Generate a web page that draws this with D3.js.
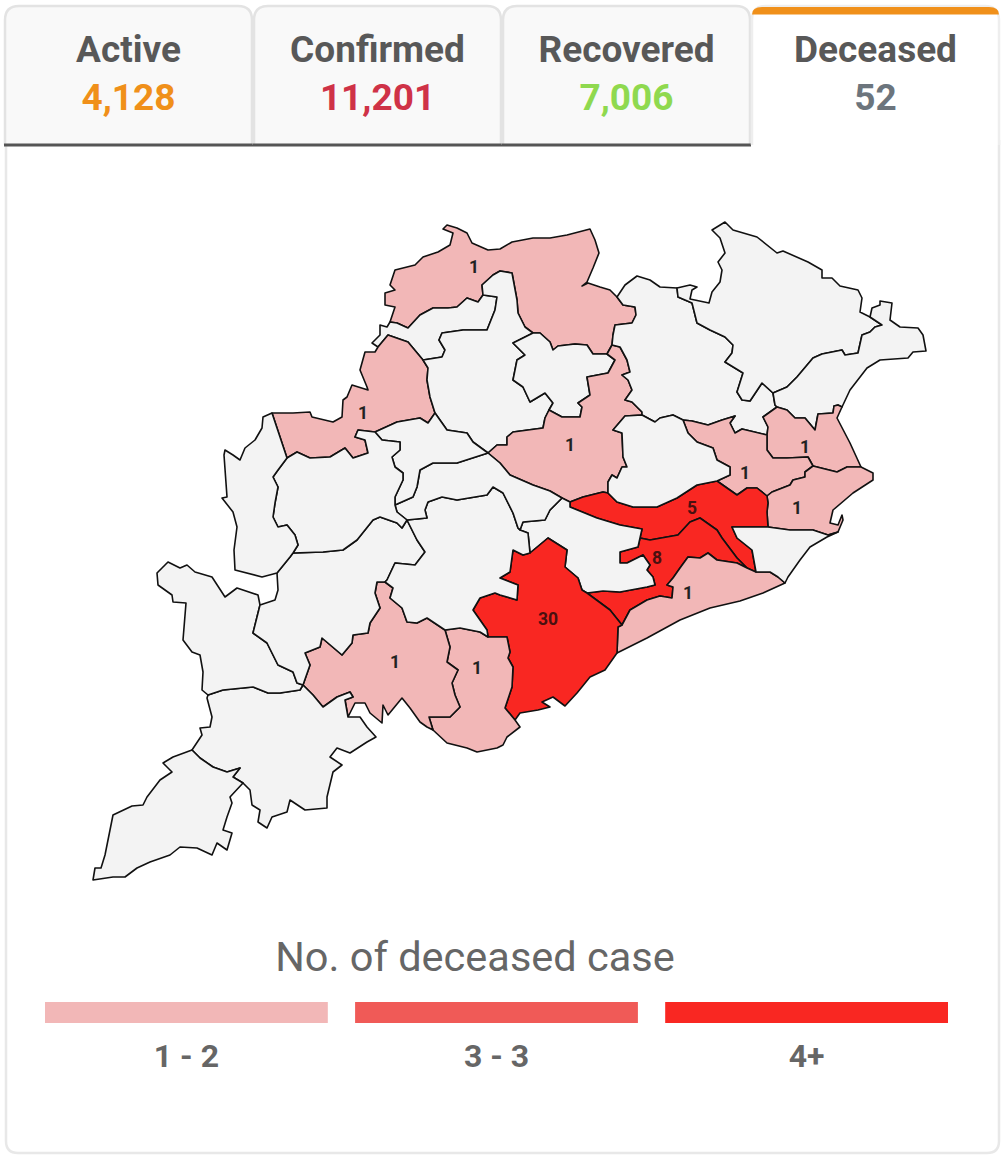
<!DOCTYPE html>
<html><head><meta charset="utf-8">
<script src="https://cdn.jsdelivr.net/npm/d3@7"></script>
<style>html,body{margin:0;padding:0;background:#fff}svg{display:block}text{font-family:Roboto,sans-serif}</style>
</head><body><svg id="c" width="1004" height="1156"></svg>
<script>
const tabNames=["Active","Confirmed","Recovered","Deceased"];
const tabValues=[4128,11201,7006,52];
const tabColors=["#f0901a","#cf3247","#8fd94f","#6c757d"];
const legendTitle="No. of deceased case";
const legendLabels=["1 - 2","3 - 3","4+"];
const legendColors=["#f2b7b7","#f05a57","#f92722"];
const noCaseColor="#f3f3f3";

const borders={
A:"390,322 395,307 385,305 385,293 395,290 390,285 395,270 415,265 423,257 438,252 450,245 453,233 443,229 447,225 457,228 467,233 472,243 488,250 500,249 512,242 533,238 550,238 567,235 590,229 595,240 599,253 593,268 587,282 582,286 588,283 600,287 610,290 617,297",
B:"617,297 623,305 635,307 636,315 632,323 615,325 613,335 612,345",
C:"612,345 607,354",
D:"607,354 593,354 587,345 575,344 558,346 553,350 550,342 540,333 533,333",
E:"533,333 525,327 518,313 517,300 512,273 500,271 493,275 482,285 483,295",
F:"483,295 478,302 467,298 457,307 448,308 433,308 420,315 408,328 397,323 390,322",
G:"483,295 497,297 495,310 487,330 463,330 442,333 439,340 445,350 442,357 423,360",
H:"423,360 408,342 388,335 378,347",
I:"378,347 372,343 380,335 380,325 387,327 390,322",
J:"378,347 375,352 365,352 360,370 367,387 368,390 352,385 347,397 343,400 342,417 333,422 312,417 310,412 293,413 272,413",
K:"272,413 287,458",
L:"287,458 297,452 310,458 330,457 345,448 353,458 368,453 365,440 355,437 358,430 375,432",
M:"375,432 397,422 420,418 428,423 435,413",
N:"435,413 430,397 427,380 428,368 423,360",
O:"435,413 447,430 467,433 473,442 488,453",
P:"533,333 513,343 525,355 517,360 513,380 523,387 530,402 545,393 553,403 549,410",
Q:"549,410 545,418 543,428 528,430 513,432 507,437 507,445 497,445 488,453",
R:"549,410 562,417 580,417 582,407 578,403 590,395 587,377 608,373 615,360 607,354",
S:"488,453 500,463 510,475 533,485 550,491 562,498",
S2:"562,498 570,502",
T:"570,502 583,497 603,492 608,493",
U:"608,493 608,482 612,475 617,478 622,467 627,467 623,457 622,433 613,430 625,416 642,415",
V:"642,415 642,412 632,402 625,400 632,390 628,380 622,375 630,372 627,360 620,347 612,345",
W:"617,297 625,285 637,276 650,280 660,287 677,288",
X:"677,288 678,297 692,303 697,323 710,330 725,337 733,345 732,353 725,362 743,373 737,392 742,400 750,401 762,383 773,393",
Y:"773,393 775,405 777,407",
Z:"777,407 763,417 768,427 767,435",
AA:"767,435 742,429 735,433 730,423 735,416 722,420 708,425 692,421 683,420",
AB:"683,420 673,415 660,418 655,422 642,415",
AC:"677,288 690,285 697,287 692,290 690,299 709,303 712,292 720,282 722,270 718,262 725,253 720,238 712,230 725,222 733,230 757,237 777,253 783,251 808,262 822,270 822,278 832,278 840,286 858,290 862,298 860,312 870,317",
AD:"870,317 882,325 875,327 870,332 862,335 858,353 845,355 842,350 822,354 813,358 797,377 787,387 773,393",
AE:"870,317 872,308 880,305 880,301 892,303 890,320 900,327 918,328 923,335 926,351 913,352 908,358 880,360 867,368 850,390 842,407",
AF:"842,407 838,405 834,406 833,413 818,414 815,430 805,418 795,418 787,410 777,407",
AG:"842,407 837,418 850,443 861,467",
AH:"861,467 847,467 837,472 813,466",
AI:"813,466 808,457 787,458 773,458 767,450 767,435",
AJ:"683,420 688,433 697,442 713,448 717,460 730,467 730,475 717,481",
AK:"717,481 737,495 747,488 757,488 767,496",
AL:"767,496 772,492 790,485 793,480 805,477 805,472 813,466",
AM:"767,496 768,503 767,512 768,527",
AN:"768,527 790,530 813,530 828,535 838,532",
AO:"838,532 843,520 842,515 838,525 830,523 833,510 853,493 873,480 873,473 861,467",
AP:"608,493 617,502 633,507 657,507 677,498 697,485 717,481",
AQ:"768,527 732,527 737,538 752,550 756,572",
AR:"756,572 747,568",
AS:"747,568 737,558 722,538 717,530 700,518 690,522 678,535 650,540 640,538",
AT:"640,538 642,529 620,525 597,518 570,507 570,502",
AU:"747,568 737,563 717,560 708,553 700,558 688,557 680,568 673,578 667,585 673,587 672,598 660,596 647,600 630,610 622,625",
AV:"622,625 610,610 587,593",
AW:"587,593 603,591 620,592 647,587 655,585 653,577 647,570 650,565 643,555 637,558 627,563 620,563 620,552 638,547 640,538",
AX:"756,572 770,572 778,577 785,583",
AY:"785,583 763,593 740,601 710,608 680,620 647,638 617,653",
AZ:"617,653 618,627 622,625",
BA:"838,532 827,537 810,547 800,560 788,577 785,583",
BB:"520,530 523,522 545,520 550,510 562,498",
BC:"587,593 582,590 578,578 565,567 567,550 548,538 530,553",
BD:"530,553 528,533 520,530",
BE:"617,653 605,670 590,677 577,693 565,706 553,697 542,702 550,707 538,710 520,713 515,720",
BF:"515,720 505,708 512,687 513,667 508,658 510,652 507,637 488,637",
BG:"488,637 487,630 473,610 480,598 495,593 500,595 517,600 518,585 500,578 510,572 513,550 523,555 530,553",
BH:"488,637 480,632 460,628 445,630",
BI:"445,630 450,647 447,662 458,670 452,683 455,695 460,707 450,717 429,717 433,730",
BJ:"515,720 520,727 507,737 503,745 497,748 477,752 467,748 447,743 433,730",
BK:"433,730 427,727 420,722 410,708 402,698 388,715 383,705 382,723 370,713 365,703 355,703 348,717",
BL:"445,630 427,618 417,623 407,622 402,608 390,598 393,588 385,582",
BM:"385,582 377,582 375,593 380,608 370,623 368,633 353,635 352,643 342,655 322,638 320,647 305,653 310,665 303,685",
BN:"303,685 313,695 323,707 337,697 350,692 353,697 345,700 348,717",
BO:"208,695 223,690 253,687 268,693 280,693 300,690 303,685",
BP:"348,717 360,717 367,727 376,737 367,742 350,753 337,748 330,757 342,765 333,772 327,797 327,808 305,810 290,800 287,812 272,817 267,828 258,822 260,810 252,805 250,790 243,783",
BQ:"243,783 233,777 240,768 227,772 213,767 200,758 192,750",
BR:"192,750 202,735 200,728 210,727 212,717 207,698 208,695",
BS:"243,783 230,797 232,803 227,817 223,830 232,833 227,850 217,843 212,855 197,848 180,847 170,855 150,862 137,868 125,877 113,877 93,880 95,868 101,868 105,855 110,830 113,815 132,806 143,805 147,797 160,780 172,772 163,763 173,757 192,750",
BT:"208,695 202,690 203,672 200,655 192,652 183,640 186,603 173,602 172,595 158,585 157,573 168,562 180,568 187,565 195,572 212,577 225,597 237,588 258,595 260,605",
BU:"260,605 257,617 253,633 267,643 278,665 293,672 297,683 303,685",
BV:"293,553 323,552 343,550 357,540 373,520 380,517 397,523 402,528 407,520",
BW:"407,520 417,540 425,552 415,565 395,563 387,580 385,582",
BX:"260,605 275,600 278,590 277,573",
BY:"407,520 427,518 425,510 428,502 442,497 457,500 487,495 493,487 503,493 513,513 518,528 520,530",
BZ:"488,453 457,463 433,463 420,470 417,487 413,497 395,505",
CA:"395,505 397,512 407,520",
CB:"395,505 395,497 403,480 403,473 395,467 392,457 400,450 400,442 382,440 375,432",
CC:"287,458 278,470 273,477 278,487 275,503 273,517 278,527 287,525 295,535 298,545 293,553",
CD:"272,413 263,417 262,428 255,440 245,448 240,460 233,455 225,450 224,455 227,497 222,498 233,512 237,527 234,550 235,570 262,577 277,573",
CE:"277,573 290,557 293,553"
};
const districtNames=["Sundargarh","Jharsuguda","Bargarh","Sambalpur","Deogarh","Angul","Keonjhar","Mayurbhanj","Balasore","Bhadrak","Jajpur","Kendrapara","Cuttack","Khordha","Puri","Jagatsinghpur","Nayagarh","Ganjam","Gajapati","Rayagada","Koraput","Malkangiri","Nabarangpur","Kalahandi","Kandhamal","Boudh","Sonepur","Balangir","Nuapada","Dhenkanal"];
const districtRings=["A B C D E F","G H I -F","J K L M N H","-G -E P Q -O N","P R D","C -R Q S S2 T U V","W X Y Z AA AB V -B","AC AD -X","AE AF -Y -AD","AG AH AI -Z -AF","AJ AK AL AI AA","-AL AM AN AO AH","T AP AK AM AQ AR AS AT","-AS AU AV AW","AR AU -AZ -AY -AX","-AQ AN BA -AX","BB S2 -AT -AW BC BD","-BG -BF -BE AZ AV BC","BF BH BI -BJ","-BI BL BM BN -BK","BO BN BP BQ BR","-BQ BS","BT BU -BO","CE BV BW BM -BU BX","BY -BD -BG BH BL -BW","BZ CA BY BB -S","M O BZ CB","CC BV -CA CB -L","CD CE -CC -K","-AB AJ -AP U"];
const deceased=[1,0,1,0,0,1,0,0,0,1,1,1,5,8,1,0,0,30,1,1,0,0,0,0,0,0,0,0,0,0];
// label anchor of each district with a count, in map units
const labelX={Sundargarh:474,Bargarh:363,Angul:570,Bhadrak:805,Jajpur:745,Kendrapara:797,Cuttack:692,Khordha:657,Puri:688,Ganjam:548,Gajapati:477,Rayagada:395};
const labelY={Sundargarh:267,Bargarh:413,Angul:445,Bhadrak:447,Jajpur:473,Kendrapara:508,Cuttack:508,Khordha:558,Puri:593,Ganjam:619,Gajapati:668,Rayagada:662};

const svg=d3.select("#c");
const parse=s=>s.trim().split(/\s+/).map(p=>p.split(",").map(Number));
function ring(spec){
  const out=[];
  spec.trim().split(/\s+/).forEach(tok=>{
    const rev=tok[0]==="-",pts=parse(borders[rev?tok.slice(1):tok]);
    if(rev)pts.reverse();
    out.push(...(out.length?pts.slice(1):pts));
  });
  if(out[0][0]!==out[out.length-1][0]||out[0][1]!==out[out.length-1][1])out.push(out[0]);
  return out;
}
const features=districtNames.map((n,i)=>({type:"Feature",properties:{name:n,value:deceased[i]},geometry:{type:"Polygon",coordinates:[ring(districtRings[i])]}}));
const path=d3.geoPath(d3.geoIdentity());
const color=d3.scaleThreshold().domain([1,3,4]).range([noCaseColor,...legendColors]);

// card frame
svg.append("path").attr("d","M6,140V1141Q6,1153 18,1153H987Q999,1153 999,1141V140").attr("fill","#fff").attr("stroke","#e8e8e8").attr("stroke-width",2.5);

// tabs
const tabX=d3.scaleBand().domain(tabNames).range([4,1000]);
const fmt=d3.format(",");
const tabs=svg.selectAll("g.tab").data(tabNames).join("g").attr("class","tab").attr("transform",d=>`translate(${tabX(d)},0)`);
const w=tabX.bandwidth();
tabs.append("path").attr("d",`M1,145V20Q1,6 15,6H${w-15}Q${w-1},6 ${w-1},20V145`)
  .attr("fill",(d,i)=>i===3?"#fff":"#f9f9f9").attr("stroke",(d,i)=>i===3?"#eeeeee":"#e3e3e3").attr("stroke-width",2.5);
tabs.filter((d,i)=>i<3).append("rect").attr("x",0).attr("y",143.5).attr("width",w).attr("height",3).attr("fill","#555");
tabs.filter((d,i)=>i===3).append("path").attr("d",`M1,14.5Q1,7 11,7H${w-11}Q${w-1},7 ${w-1},14.5Z`).attr("fill","#f0901a");
tabs.append("text").attr("x",w/2).attr("y",62).attr("text-anchor","middle").attr("font-size",37).attr("font-weight",700).attr("fill","#585858").text(d=>d);
tabs.append("text").attr("x",w/2).attr("y",110).attr("text-anchor","middle").attr("font-size",37).attr("font-weight",700).attr("fill",(d,i)=>tabColors[i]).text((d,i)=>fmt(tabValues[i]));

// map
svg.append("g").selectAll("path").data(features).join("path")
  .attr("d",path).attr("fill",d=>color(d.properties.value)).attr("stroke","#111").attr("stroke-width",1.6).attr("stroke-linejoin","round");
svg.append("g").selectAll("text").data(features.filter(d=>d.properties.value>0)).join("text")
  .attr("x",d=>labelX[d.properties.name]).attr("y",d=>labelY[d.properties.name]).attr("dy",".35em")
  .attr("text-anchor","middle").attr("font-size",17.5).attr("font-weight",700)
  .attr("fill",d=>d.properties.value>=4?"#4a1010":"#222").text(d=>d.properties.value);

// legend
svg.append("text").attr("x",475).attr("y",971).attr("text-anchor","middle").attr("font-size",41.5).attr("fill","#666").text(legendTitle);
const lx=d3.scaleBand().domain(legendLabels).range([45,948]).paddingInner(0.088);
svg.append("g").selectAll("rect").data(legendLabels).join("rect").attr("x",d=>lx(d)).attr("y",1002).attr("width",lx.bandwidth()).attr("height",21).attr("fill",(d,i)=>legendColors[i]);
svg.append("g").selectAll("text").data(legendLabels).join("text").attr("x",d=>lx(d)+lx.bandwidth()/2).attr("y",1067).attr("text-anchor","middle").attr("font-size",32).attr("font-weight",700).attr("fill","#666").text(d=>d);
</script></body></html>
